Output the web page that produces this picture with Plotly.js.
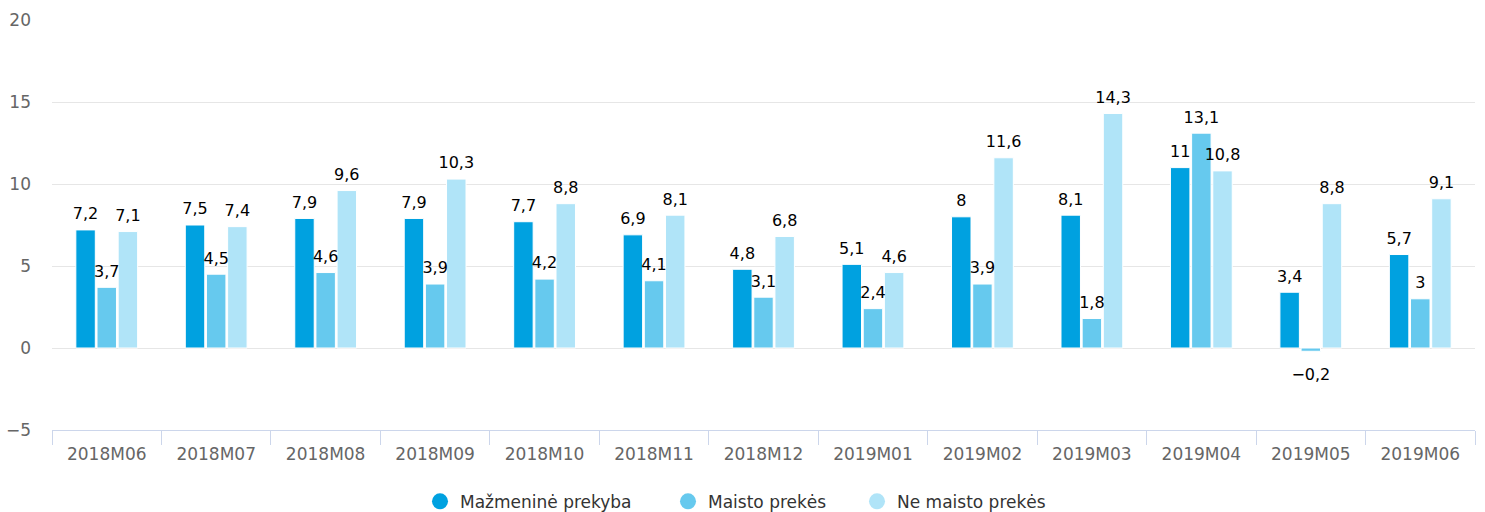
<!DOCTYPE html>
<html>
<head>
<meta charset="utf-8">
<script src="https://cdn.plot.ly/plotly-3.0.1.min.js"></script>
<style>
html,body{margin:0;padding:0;background:#fff;}
#chart{width:1485px;height:512px;}
</style>
</head>
<body>
<div id="chart"></div>
<script>
const categories = ["2018M06","2018M07","2018M08","2018M09","2018M10","2018M11","2018M12","2019M01","2019M02","2019M03","2019M04","2019M05","2019M06"];
const seriesNames = ["Mažmeninė prekyba","Maisto prekės","Ne maisto prekės"];
const mazmenine = [7.2,7.5,7.9,7.9,7.7,6.9,4.8,5.1,8,8.1,11,3.4,5.7];
const maisto = [3.7,4.5,4.6,3.9,4.2,4.1,3.1,2.4,3.9,1.8,13.1,-0.2,3];
const neMaisto = [7.1,7.4,9.6,10.3,8.8,8.1,6.8,4.6,11.6,14.3,10.8,8.8,9.1];
const colors = ["#00a1e0","#66c9ee","#b0e4f8"];

const fmt = v => String(v).replace('.', ',').replace('-', '\u2212');
const allSeries = [mazmenine, maisto, neMaisto];
const FONT = "DejaVu Sans, Verdana, sans-serif";
const legendIds = ['legend', 'legend2', 'legend3'];

const traces = [];
allSeries.forEach((vals, i) => {
  traces.push({
    type: 'bar',
    x: categories,
    y: vals,
    name: seriesNames[i],
    showlegend: false,
    alignmentgroup: 'bars',
    offsetgroup: 'b' + i,
    marker: {color: colors[i], line: {color: '#ffffff', width: 1}},
    hoverinfo: 'x+y'
  });
});
// data labels, aligned with grouped bars via scattermode 'group'
allSeries.forEach((vals, i) => {
  traces.push({
    type: 'scatter',
    mode: 'markers+text',
    x: categories,
    y: vals,
    name: seriesNames[i] + ' labels',
    showlegend: false,
    alignmentgroup: 'labels',
    offsetgroup: 'l' + i,
    text: vals.map(fmt),
    textposition: vals.map(v => v < 0 ? 'bottom center' : 'top center'),
    textfont: {family: FONT, size: 16, color: '#000000'},
    marker: {size: vals.map(v => v < 0 ? 25 : 9), color: 'rgba(0,0,0,0)', opacity: 0, line: {width: 0, color: 'rgba(0,0,0,0)'}},
    cliponaxis: false,
    hoverinfo: 'skip'
  });
});
// legend entries with circle symbols
allSeries.forEach((vals, i) => {
  traces.push({
    type: 'scatter',
    mode: 'markers',
    x: [categories[0]],
    y: [null],
    name: seriesNames[i],
    legend: legendIds[i],
    alignmentgroup: 'legendonly' + i,
    offsetgroup: 'k' + i,
    marker: {color: colors[i], size: 16, symbol: 'circle', line: {width: 0}},
    showlegend: true,
    hoverinfo: 'skip'
  });
});

const legendBase = {
  orientation: 'h',
  xanchor: 'left',
  xref: 'container',
  yref: 'container',
  y: 0.02,
  yanchor: 'middle',
  font: {family: FONT, size: 17, color: '#333333'},
  bgcolor: 'rgba(0,0,0,0)'
};

const layout = {
  width: 1485,
  height: 512,
  margin: {l: 52, r: 10, t: 20, b: 82},
  paper_bgcolor: '#ffffff',
  plot_bgcolor: '#ffffff',
  barmode: 'group',
  bargap: 0.42,
  bargroupgap: 0.08,
  scattermode: 'group',
  scattergap: 0.42,
  font: {family: FONT, color: '#666666', size: 16},
  xaxis: {
    type: 'category',
    automargin: false,
    range: [-0.5, 12.5],
    tickson: 'boundaries',
    ticks: 'outside',
    ticklen: 14,
    tickcolor: '#ccd6eb',
    tickwidth: 1,
    ticklabelstandoff: 9,
    showline: true,
    linecolor: '#ccd6eb',
    linewidth: 1,
    showgrid: false,
    tickfont: {family: FONT, size: 17, color: '#666666'},
    fixedrange: true
  },
  yaxis: {
    automargin: false,
    range: [-5, 20],
    dtick: 5,
    tick0: 0,
    showgrid: true,
    gridcolor: '#e6e6e6',
    gridwidth: 1,
    zeroline: true,
    zerolinecolor: '#e6e6e6',
    zerolinewidth: 1,
    showline: false,
    ticks: '',
    ticklabelstandoff: 20,
    tickfont: {family: FONT, size: 17, color: '#666666'},
    fixedrange: true
  },
  legend: Object.assign({}, legendBase, {x: 420 / 1485}),
  legend2: Object.assign({}, legendBase, {x: 668 / 1485}),
  legend3: Object.assign({}, legendBase, {x: 857 / 1485}),
  separators: ', ',
  showlegend: true
};

Plotly.newPlot('chart', traces, layout, {displayModeBar: false, staticPlot: true});
</script>
</body>
</html>
